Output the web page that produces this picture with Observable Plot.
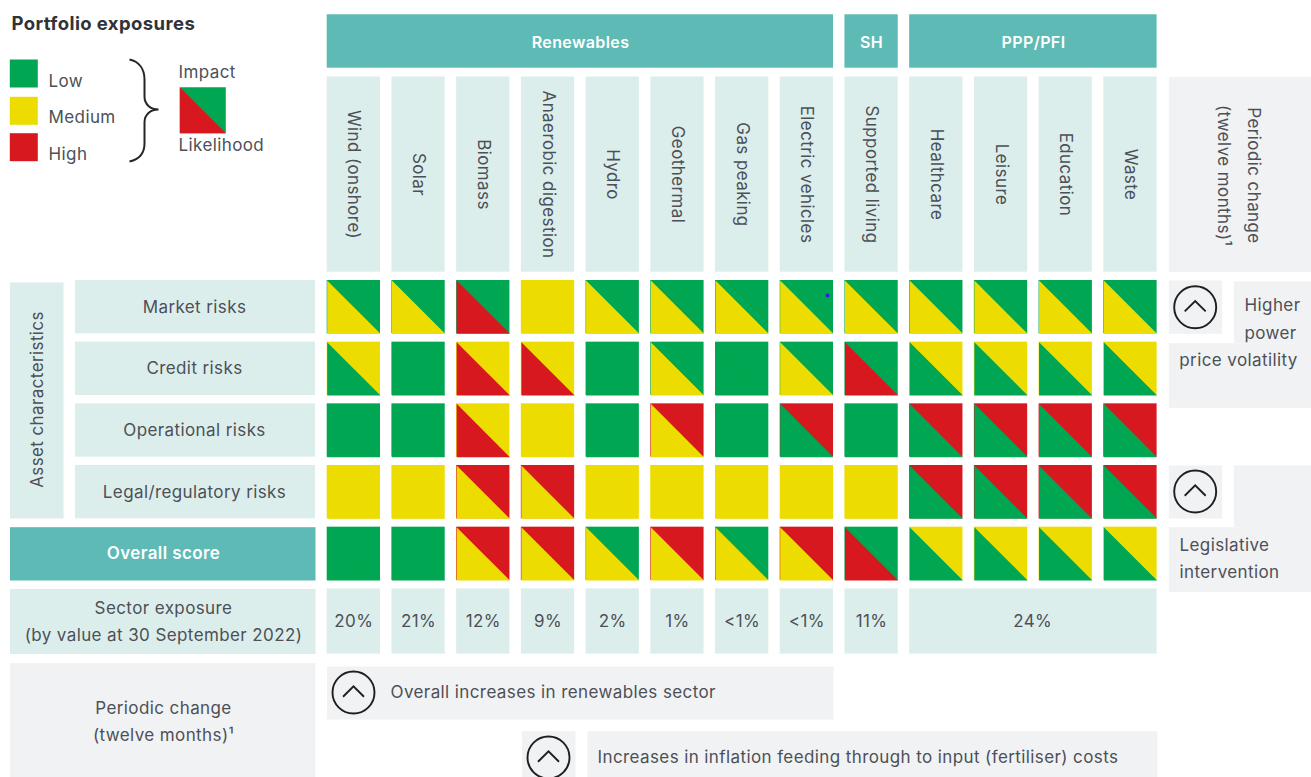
<!DOCTYPE html>
<html>
<head>
<meta charset="utf-8">
<script src="https://cdn.jsdelivr.net/npm/d3@7"></script>
<script src="https://cdn.jsdelivr.net/npm/@observablehq/plot@0.6"></script>
<style>
html,body{margin:0;padding:0;background:#fff;}
svg{display:block;}
</style>
</head>
<body>
<div id="chart"></div>
<script>
const columns = ["Wind (onshore)","Solar","Biomass","Anaerobic digestion","Hydro","Geothermal","Gas peaking","Electric vehicles","Supported living","Healthcare","Leisure","Education","Waste"];
const rows = ["Market risks","Credit risks","Operational risks","Legal/regulatory risks","Overall score","Sector exposure"];
const levels = ["Low","Medium","High"];
const levelColors = ["#00a651","#ecdc00","#d7191f"];
const L = "Low", M = "Medium", H = "High";

// upper-right triangle = impact, lower-left triangle = likelihood
const marketImpact      = [L,L,L,M,L,L,L,L,L,L,L,L,L];
const marketLikelihood  = [M,M,H,M,M,M,M,M,M,M,M,M,M];
const creditImpact      = [M,L,M,M,L,L,L,L,L,M,M,M,M];
const creditLikelihood  = [L,L,H,H,L,M,L,M,H,L,L,L,L];
const operImpact        = [L,L,M,M,L,H,L,H,L,H,H,H,H];
const operLikelihood    = [L,L,H,M,L,M,L,L,L,L,L,L,L];
const legalImpact       = [M,M,H,H,M,M,M,M,M,H,H,H,H];
const legalLikelihood   = [M,M,M,M,M,M,M,M,M,L,L,L,L];
const overallImpact     = [L,L,H,H,L,H,L,H,L,M,M,M,M];
const overallLikelihood = [L,L,M,M,M,M,M,M,H,L,L,L,L];
const sectorValues = ["20%","21%","12%","9%","2%","1%","<1%","<1%","11%"];
const sectorShared = "24%";
const groups = [
  {name:"Renewables", from:"Wind (onshore)", to:"Electric vehicles"},
  {name:"SH", from:"Supported living", to:"Supported living"},
  {name:"PPP/PFI", from:"Healthcare", to:"Waste"}
];

const impacts = [marketImpact,creditImpact,operImpact,legalImpact,overallImpact];
const likelihoods = [marketLikelihood,creditLikelihood,operLikelihood,legalLikelihood,overallLikelihood];
const cells = impacts.flatMap((arr,r)=>arr.map((v,c)=>({row:rows[r],col:columns[c],impact:v,likelihood:likelihoods[r][c]})));

const W = 1311, H_ = 777;
const ink = "#4c5057", teal = "#5dbab5", pale = "#dceeec", grey = "#f1f2f4";
const fontFamily = "Inter, 'Noto Sans', sans-serif";

const lowerTriangle = {draw(c,size){const r=Math.sqrt(size/Math.PI);c.moveTo(-r,-r);c.lineTo(r,r);c.lineTo(-r,r);c.closePath();}};
const square = {draw(c,size){const r=Math.sqrt(size/Math.PI);c.moveTo(-r,-r);c.lineTo(r,-r);c.lineTo(r,r);c.lineTo(-r,r);c.closePath();}};
const upCircle = {draw(c,size){const r=Math.sqrt(size/Math.PI);
  c.moveTo(r,0);c.arc(0,0,r,0,2*Math.PI);
  c.moveTo(-r*.5,r*.2);c.lineTo(0,-r*.29);c.lineTo(r*.5,r*.2);}};
const brace = {draw(c,size){const r=Math.sqrt(size/Math.PI);
  const k=r/51;
  const P=(a,b)=>[a*k,b*k];
  c.moveTo(...P(-15,-51));
  c.bezierCurveTo(...P(-6,-49),...P(0,-42),...P(0,-31));
  c.lineTo(...P(0,-14));
  c.bezierCurveTo(...P(0,-6),...P(6,-1),...P(14,-1));
  c.bezierCurveTo(...P(6,-1),...P(0,4),...P(0,12));
  c.lineTo(...P(0,33));
  c.bezierCurveTo(...P(0,43),...P(-6,49),...P(-15,51));
}};

const headerText = {fill:"#fff",fontWeight:600,fontSize:16};
const panel = (x1,y1,x2,y2,fill)=>Plot.frame({fill,stroke:null,insetLeft:x1,insetTop:y1,insetRight:W-x2,insetBottom:H_-y2});
const label = (str,x,y,o={})=>Plot.text([str],{text:d=>d,frameAnchor:"top-left",dx:x,dy:y,textAnchor:"middle",lineAnchor:"middle",fontSize:17,fill:ink,...o});
const circleIcon = (x,y)=>Plot.dot([0],{symbol:upCircle,r:21,frameAnchor:"top-left",dx:x,dy:y,fill:"none",stroke:"#1f1f1f",strokeWidth:1.9});
const swatch = (lvl,x,y,r,sym)=>Plot.dot([lvl],{fill:d=>d,symbol:sym,r,frameAnchor:"top-left",dx:x,dy:y});

const plot = Plot.plot({
  width:W,height:H_,margin:0,
  style:{fontFamily,background:"#fff",letterSpacing:"0.4px"},
  x:{type:"band",domain:columns,range:[326.7,1156.6],paddingInner:0.1765,paddingOuter:0,align:0,round:false,axis:null},
  y:{type:"band",domain:rows,range:[280,641.65],paddingInner:0.1357,paddingOuter:0,align:0,round:false,axis:null},
  color:{type:"ordinal",domain:levels,range:levelColors},
  marks:[
    // legend
    label("Portfolio exposures",11,24,{textAnchor:"start",fontWeight:700,fontSize:18.5,fill:"#2f3338"}),
    ...levels.map((l,i)=>swatch(l,23.3,[73,110.3,146.7][i],14,square)),
    label("Low",48,81,{textAnchor:"start"}),
    label("Medium",48,117,{textAnchor:"start"}),
    label("High",48,154,{textAnchor:"start"}),
    Plot.dot([0],{symbol:brace,r:51,frameAnchor:"top-left",dx:144,dy:110,fill:"none",stroke:"#262626",strokeWidth:2}),
    label("Impact",178,72,{textAnchor:"start"}),
    swatch("Low",202.3,109.7,23,square),
    swatch("High",202.3,109.7,23,lowerTriangle),
    label("Likelihood",178,145,{textAnchor:"start"}),

    // group headers
    Plot.rect(groups,{x1:"from",x2:"to",insetTop:14.3,insetBottom:H_-67.7,fill:teal}),
    label("Renewables",580,42.5,headerText),
    label("SH",871,42.5,headerText),
    label("PPP/PFI",1033,42.5,headerText),

    // column labels
    Plot.rect(columns,{x1:d=>d,x2:d=>d,insetTop:76.5,insetBottom:H_-271.7,fill:pale}),
    Plot.text(columns,{x:d=>d,text:d=>d,frameAnchor:"top",dy:174,rotate:90,lineAnchor:"middle",textAnchor:"middle",fontSize:17,fill:ink}),
    panel(1168.3,76.5,1311,271.7,grey),
    label("Periodic change",1253,175,{rotate:90}),
    label("(twelve months)¹",1223,175,{rotate:90}),

    // row labels
    panel(9.5,282,63,518,pale),
    label("Asset characteristics",37,399,{rotate:-90}),
    Plot.rect(rows.slice(0,4),{y1:d=>d,y2:d=>d,insetLeft:75,insetRight:W-315,fill:pale}),
    Plot.text(rows.slice(0,4),{y:d=>d,text:d=>d,frameAnchor:"left",dx:194,textAnchor:"middle",lineAnchor:"middle",fontSize:17,fill:ink}),
    panel(9.5,526.7,315,580,teal),
    label("Overall score",163,553,{fill:"#fff",fontWeight:600}),

    // matrix
    Plot.cell(cells,{x:"col",y:"row",fill:"impact"}),
    Plot.dot(cells,{x:"col",y:"row",fill:"likelihood",symbol:lowerTriangle,r:26.65}),
    Plot.dot(["Electric vehicles"],{x:d=>d,y:()=>"Market risks",r:2,fill:"#1a2fd0",dx:20.7,dy:-11.6}),

    // sector exposure
    panel(9.5,588.5,315,653.5,pale),
    label("Sector exposure",163,608),
    label("(by value at 30 September 2022)",163,635),
    Plot.cell(sectorValues,{x:(d,i)=>columns[i],y:()=>"Sector exposure",insetBottom:-12,fill:pale}),
    Plot.rect([sectorShared],{x1:()=>"Healthcare",x2:()=>"Waste",y1:()=>"Sector exposure",y2:()=>"Sector exposure",insetBottom:-12,fill:pale}),
    Plot.text(sectorValues,{x:(d,i)=>columns[i],y:()=>"Sector exposure",text:d=>d,dy:6,fontSize:17,fill:ink}),
    Plot.text([sectorShared],{x:()=>"Healthcare",y:()=>"Sector exposure",text:d=>d,dx:96.4,dy:6,fontSize:17,fill:ink}),

    // periodic change
    panel(9.5,662.7,315,777,grey),
    label("Periodic change",163,708),
    label("(twelve months)¹",163,735),
    panel(326.5,666,833,719,grey),
    circleIcon(353,692),
    label("Overall increases in renewables sector",390,692,{textAnchor:"start"}),
    panel(521.5,730.7,575,777,grey),
    panel(587,730.7,1157,777,grey),
    circleIcon(548,757),
    label("Increases in inflation feeding through to input (fertiliser) costs",597,757,{textAnchor:"start"}),

    // right-hand notes
    panel(1168.3,280,1221.7,333.3,grey),
    panel(1233.3,281,1311,342.7,grey),
    panel(1168.3,342.7,1311,407.3,grey),
    circleIcon(1194.7,306.7),
    label("Higher",1272,305),
    label("power",1270,333),
    label("price volatility",1238,360),
    panel(1168.3,465,1221.7,518,grey),
    panel(1233.3,465,1311,526.7,grey),
    panel(1168.3,526.7,1311,591.7,grey),
    circleIcon(1194.7,491),
    label("Legislative",1179,545,{textAnchor:"start"}),
    label("intervention",1179,572,{textAnchor:"start"})
  ]
});
document.getElementById("chart").append(plot);
</script>
</body>
</html>
